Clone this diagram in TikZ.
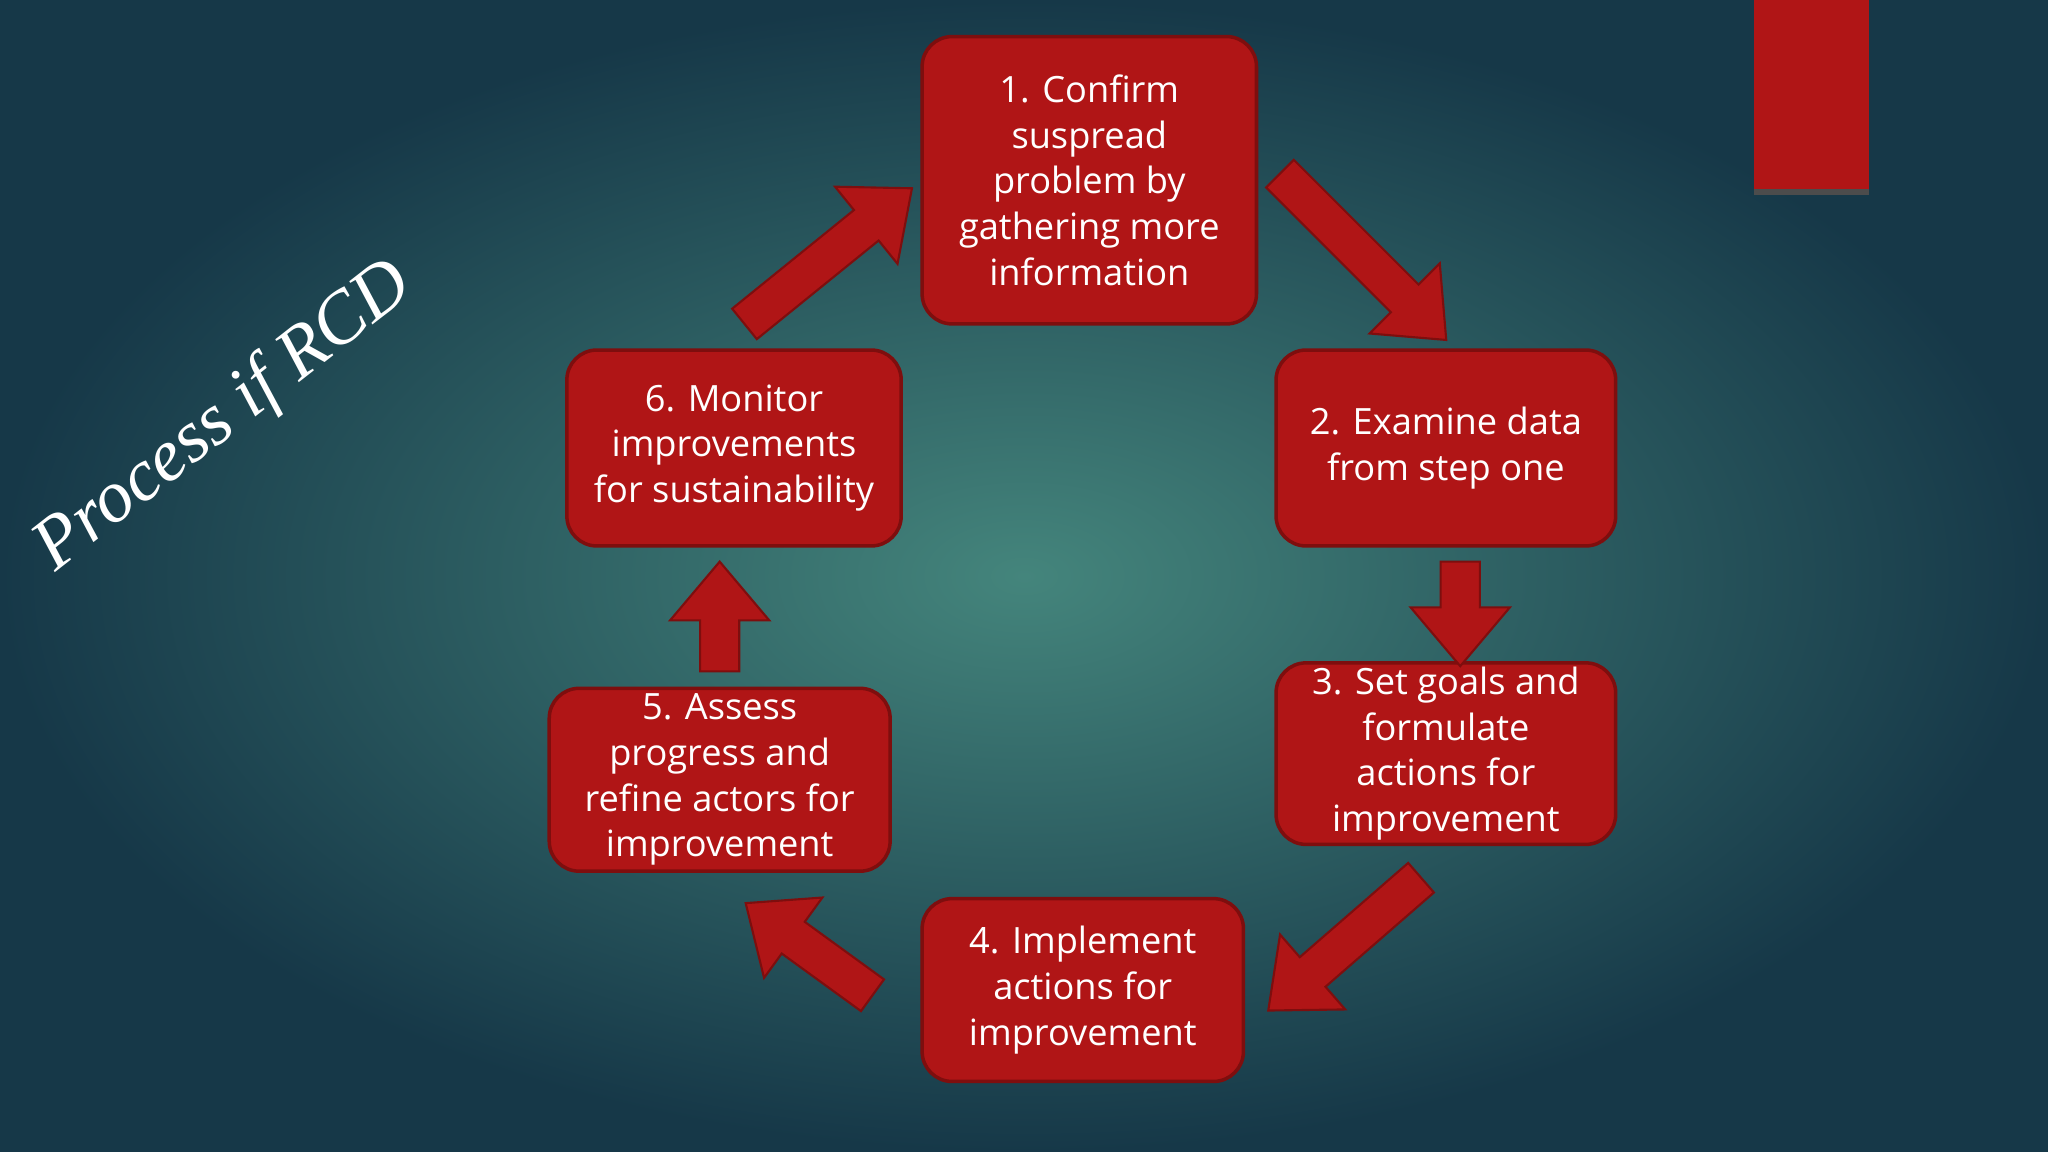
\documentclass[tikz,border=0pt]{standalone}
\usepackage{fontspec}
\setmainfont{Open Sans}
\newfontfamily\titlefont{Liberation Serif}
\usetikzlibrary{calc}
\definecolor{boxred}{HTML}{B01516}
\definecolor{boxedge}{HTML}{7E0E0E}
\definecolor{bgin}{HTML}{44857C}
\definecolor{bgout}{HTML}{163848}
\tikzset{
  stepbox/.style={draw=boxedge, line width=1pt, fill=boxred, rounded corners=0.3cm,
    text=white, align=center, font=\fontsize{10.3}{13}\selectfont, inner sep=0pt},
  blockarr/.style={fill=boxred, draw=boxedge, line width=0.6pt}
}
% #1 start, #2 angle, #3 length (px)
\newcommand{\blockarrow}[3]{%
  \begin{scope}[shift={(#1)}, rotate=#2]
    \filldraw[blockarr] (0,-15) -- (#3-45,-15) -- (#3-45,-38) -- (#3,0) -- (#3-45,38) -- (#3-45,15) -- (0,15) -- cycle;
  \end{scope}}
\begin{document}
\begin{tikzpicture}[x=0.013061cm, y=-0.013061cm]
\shade[inner color=bgin, outer color=bgout] (0,0) rectangle (1568,882);
\useasboundingbox (0,0) rectangle (1568,882);
\fill[boxred] (1343,0) rectangle (1431,147);
\fill[black!70] (1343,145) rectangle (1431,149);
\node[stepbox, minimum width=256*0.013061cm, minimum height=220*0.013061cm] (s1) at (834,138) {1. Confirm\\suspread\\problem by\\gathering more\\information};
\node[stepbox, minimum width=260*0.013061cm, minimum height=150*0.013061cm] (s2) at (1107,343) {2. Examine data\\from step one};
\node[stepbox, minimum width=260*0.013061cm, minimum height=139*0.013061cm] (s3) at (1107,577) {3. Set goals and\\formulate\\actions for\\improvement};
\node[stepbox, minimum width=246*0.013061cm, minimum height=140*0.013061cm] (s4) at (829,758) {4. Implement\\actions for\\improvement};
\node[stepbox, minimum width=261*0.013061cm, minimum height=140*0.013061cm] (s5) at (551,597) {5. Assess\\progress and\\refine actors for\\improvement};
\node[stepbox, minimum width=256*0.013061cm, minimum height=150*0.013061cm] (s6) at (562,343) {6. Monitor\\improvements\\for sustainability};
\coordinate (a1) at (980,133);
\coordinate (a2) at (1118,430);
\coordinate (a3) at (1088,672);
\coordinate (a4) at (668,762);
\coordinate (a5) at (551,514);
\coordinate (a6) at (570,248);
\blockarrow{a1}{-45}{180}
\blockarrow{a2}{-90}{80}
\blockarrow{a3}{-139}{155}
\blockarrow{a4}{144}{120}
\blockarrow{a5}{90}{84}
\blockarrow{a6}{39}{165}
\node[text=white, font=\titlefont\itshape\fontsize{21}{21}\selectfont, rotate=38] (title) at (172,320) {Process if RCD};
\end{tikzpicture}
\end{document}
